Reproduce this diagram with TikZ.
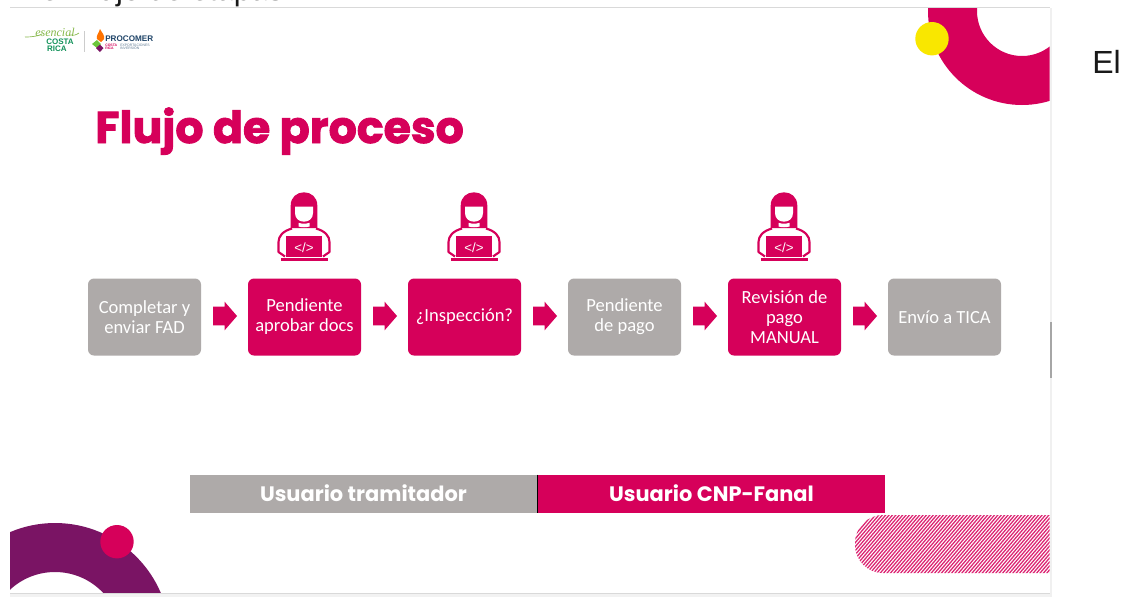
\documentclass[tikz,border=0pt]{standalone}
\usepackage{fontspec}
\setmainfont{Carlito}
\newfontfamily\arialf{Liberation Sans}
\newfontfamily\popf[BoldFeatures={FakeBold=2}]{Poppins}
\newfontfamily\popg{Poppins}
\newfontfamily\scriptf{Liberation Serif}
\usetikzlibrary{shapes.arrows}
\definecolor{mag}{HTML}{D6005A}
\definecolor{gry}{HTML}{AEAAA9}
\definecolor{pur}{HTML}{7A1464}
\definecolor{yel}{HTML}{F9E700}
\definecolor{lgreen}{HTML}{86B84A}
\definecolor{dgreen}{HTML}{12925A}
\definecolor{navy}{HTML}{1F4468}
\newcommand{\fs}[1]{\fontsize{#1}{#1}\selectfont}
\tikzset{
  flowbox/.style={rounded corners=4.5pt,minimum width=84.75pt,minimum height=57.75pt,inner sep=0pt,align=center,text=white,font=\fontsize{13.9pt}{15pt}\selectfont},
  grybox/.style={flowbox,fill=gry},
  magbox/.style={flowbox,fill=mag},
  blockarrow/.style={single arrow,fill=mag,draw=none,minimum height=18pt,inner xsep=0pt,inner ysep=6.75pt,single arrow head extend=3.75pt,single arrow tip angle=98},
  barbox/.style={minimum width=260.25pt,minimum height=28.5pt,inner sep=0pt,text=white,font=\popg\bfseries\fs{15.7pt}},
  person/.pic={
    \fill[mag] (-13.3,36) -- (-13.3,13.5) .. controls (-13.3,5) and (-7,0.3) .. (0,0.3) .. controls (7,0.3) and (13.3,5) .. (13.3,13.5) -- (13.3,36) -- cycle;
    \fill[white] (-9,14.7) -- (9,14.7) -- (9,21) .. controls (9,26.5) and (5,29.7) .. (0,29.7) .. controls (-5,29.7) and (-9,26.5) .. (-9,21) -- cycle;
    \fill[white] (-5.5,30.8) .. controls (-2,32) and (2,32) .. (5.5,30.8) -- (5.5,34.5) .. controls (2,35.5) and (-2,35.5) .. (-5.5,34.5) -- cycle;
    \draw[mag,line width=1.6pt,line join=round] (-12,36.5) .. controls (-21,39) and (-25.5,44) .. (-25.5,50) -- (-25.5,60) -- (-19,64.5);
    \draw[mag,line width=1.6pt,line join=round] (12,36.5) .. controls (21,39) and (25.5,44) .. (25.5,50) -- (25.5,60) -- (19,64.5);
    \fill[mag] (-17.7,43.7) rectangle (18,65);
    \fill[mag] (-23.5,66.3) rectangle (23.5,69);
    \node[text=white,font=\arialf\fs{10pt},inner sep=0pt] at (0,55.5) {</>};
  }
}
\begin{document}
\begin{tikzpicture}[x=0.75pt,y=-0.75pt]
\useasboundingbox (0,0) rectangle (1128,597);
\fill[white] (0,0) rectangle (1128,597);
% text outside the slide
\begin{scope}
\clip (0,0) rectangle (1128,7);
\node[anchor=base west,inner sep=0pt,font=\arialf\fs{23pt},text=black!90] (toptext) at (41,0.2) {en flujo de etapas};
\end{scope}
\node[anchor=base west,inner sep=0pt,font=\arialf\fs{24pt},text=black!90] (el) at (1092,73) {El};
% window edges
\fill[black!5] (10,593) rectangle (1050,597);
\fill[black!6] (1050,8) rectangle (1052,597);
\fill[black!35] (1050,322) rectangle (1052,378);
\draw[black!15,line width=0.75pt] (10,7.5) -- (1050,7.5);
\draw[black!15,line width=0.75pt] (10,593) -- (1050,593);
\begin{scope}
\clip (10,8) rectangle (1049.5,592.5);
% top right ring
\fill[mag,even odd rule] (1022,11) circle[radius=94] (1022,11) circle[radius=45];
\fill[yel] (932,38.7) circle[radius=16.7];
% bottom left ring
\fill[pur,even odd rule] (55,638) circle[radius=115] (55,638) circle[radius=66];
\fill[mag] (117,541.7) circle[radius=16.7];
% hatched band
\begin{scope}
\clip[rounded corners=21pt] (855,515) rectangle (1120,573);
\foreach \h in {780,783.4,...,1060}{
  \draw[mag!85,line width=0.95pt] (\h,575) -- ({\h+53},513);
}
\end{scope}
\end{scope}
% logo
\draw[lgreen,line width=0.5pt] (25,37) .. controls (33,37) and (38,36) .. (42,34);
\draw[lgreen,line width=0.5pt] (70,35) .. controls (73,36) and (76,35) .. (79,33);
\node[inner sep=0pt,text=lgreen,font=\scriptf\itshape\fs{9pt}] (lg1) at (55,32.5) {esencial};
\node[anchor=east,inner sep=0pt,text=dgreen,font=\arialf\bfseries\fs{6pt}] (lg2) at (74,42) {COSTA};
\node[anchor=east,inner sep=0pt,text=dgreen,font=\arialf\bfseries\fs{6pt}] (lg3) at (67,49) {RICA};
\draw[black!20,line width=0.4pt] (84.5,31) -- (84.5,52);
\fill[orange!90!red] (100,29) .. controls (102,33) and (105,35) .. (104,39) -- (101,42) -- (97,39) .. controls (96,35) and (99,33) .. (100,29) -- cycle;
\fill[lgreen!80!green] (92,44) -- (97,40) -- (101,44) -- (97,48) -- cycle;
\fill[pur] (96,48) -- (100,44.5) -- (103.5,48) -- (100,52) -- cycle;
\node[anchor=west,inner sep=0pt,text=navy,font=\arialf\bfseries\fs{6.1pt}] (lg4) at (105,39) {PROCOMER};
\node[anchor=west,inner sep=0pt,text=mag,font=\arialf\bfseries\fs{2.6pt},align=left] (lg5) at (105,47) {COSTA\\[-0.5pt]RICA};
\node[anchor=west,inner sep=0pt,text=navy!70,font=\arialf\fs{2.6pt},align=left] (lg6) at (120,47) {EXPORTACIONES\\[-0.5pt]INVERSIÓN};
% title
\node[anchor=base west,inner sep=0pt,text=mag,font=\popf\bfseries\fs{33.2pt}] (title) at (95,143) {Flujo de proceso};
% icons
\pic at (304,192) {person};
\pic at (474,192) {person};
\pic at (784,192) {person};
% flow
\node[grybox] (b1) at (144.5,317) {Completar y\\enviar FAD};
\node[magbox] (b2) at (304.5,317) {Pendiente\\aprobar docs};
\node[magbox] (b3) at (464.5,317) {¿Inspección?};
\node[grybox] (b4) at (624.5,317) {Pendiente\\de pago};
\node[magbox] (b5) at (784.5,317) {Revisión de\\pago\\MANUAL};
\node[grybox] (b6) at (944.5,317) {Envío a TICA};
\node[blockarrow] (a1) at (221,316) {};
\node[blockarrow] (a2) at (381,316) {};
\node[blockarrow] (a3) at (541,316) {};
\node[blockarrow] (a4) at (701,316) {};
\node[blockarrow] (a5) at (861,316) {};
% bars
\node[barbox,fill=gry] (u1) at (363.5,494) {\raisebox{1pt}{Usuario tramitador}};
\node[barbox,fill=mag] (u2) at (711.5,494) {\raisebox{1pt}{Usuario CNP-Fanal}};
\draw[black,line width=0.6pt] (u1.north east) -- (u1.south east);
\end{tikzpicture}
\end{document}
